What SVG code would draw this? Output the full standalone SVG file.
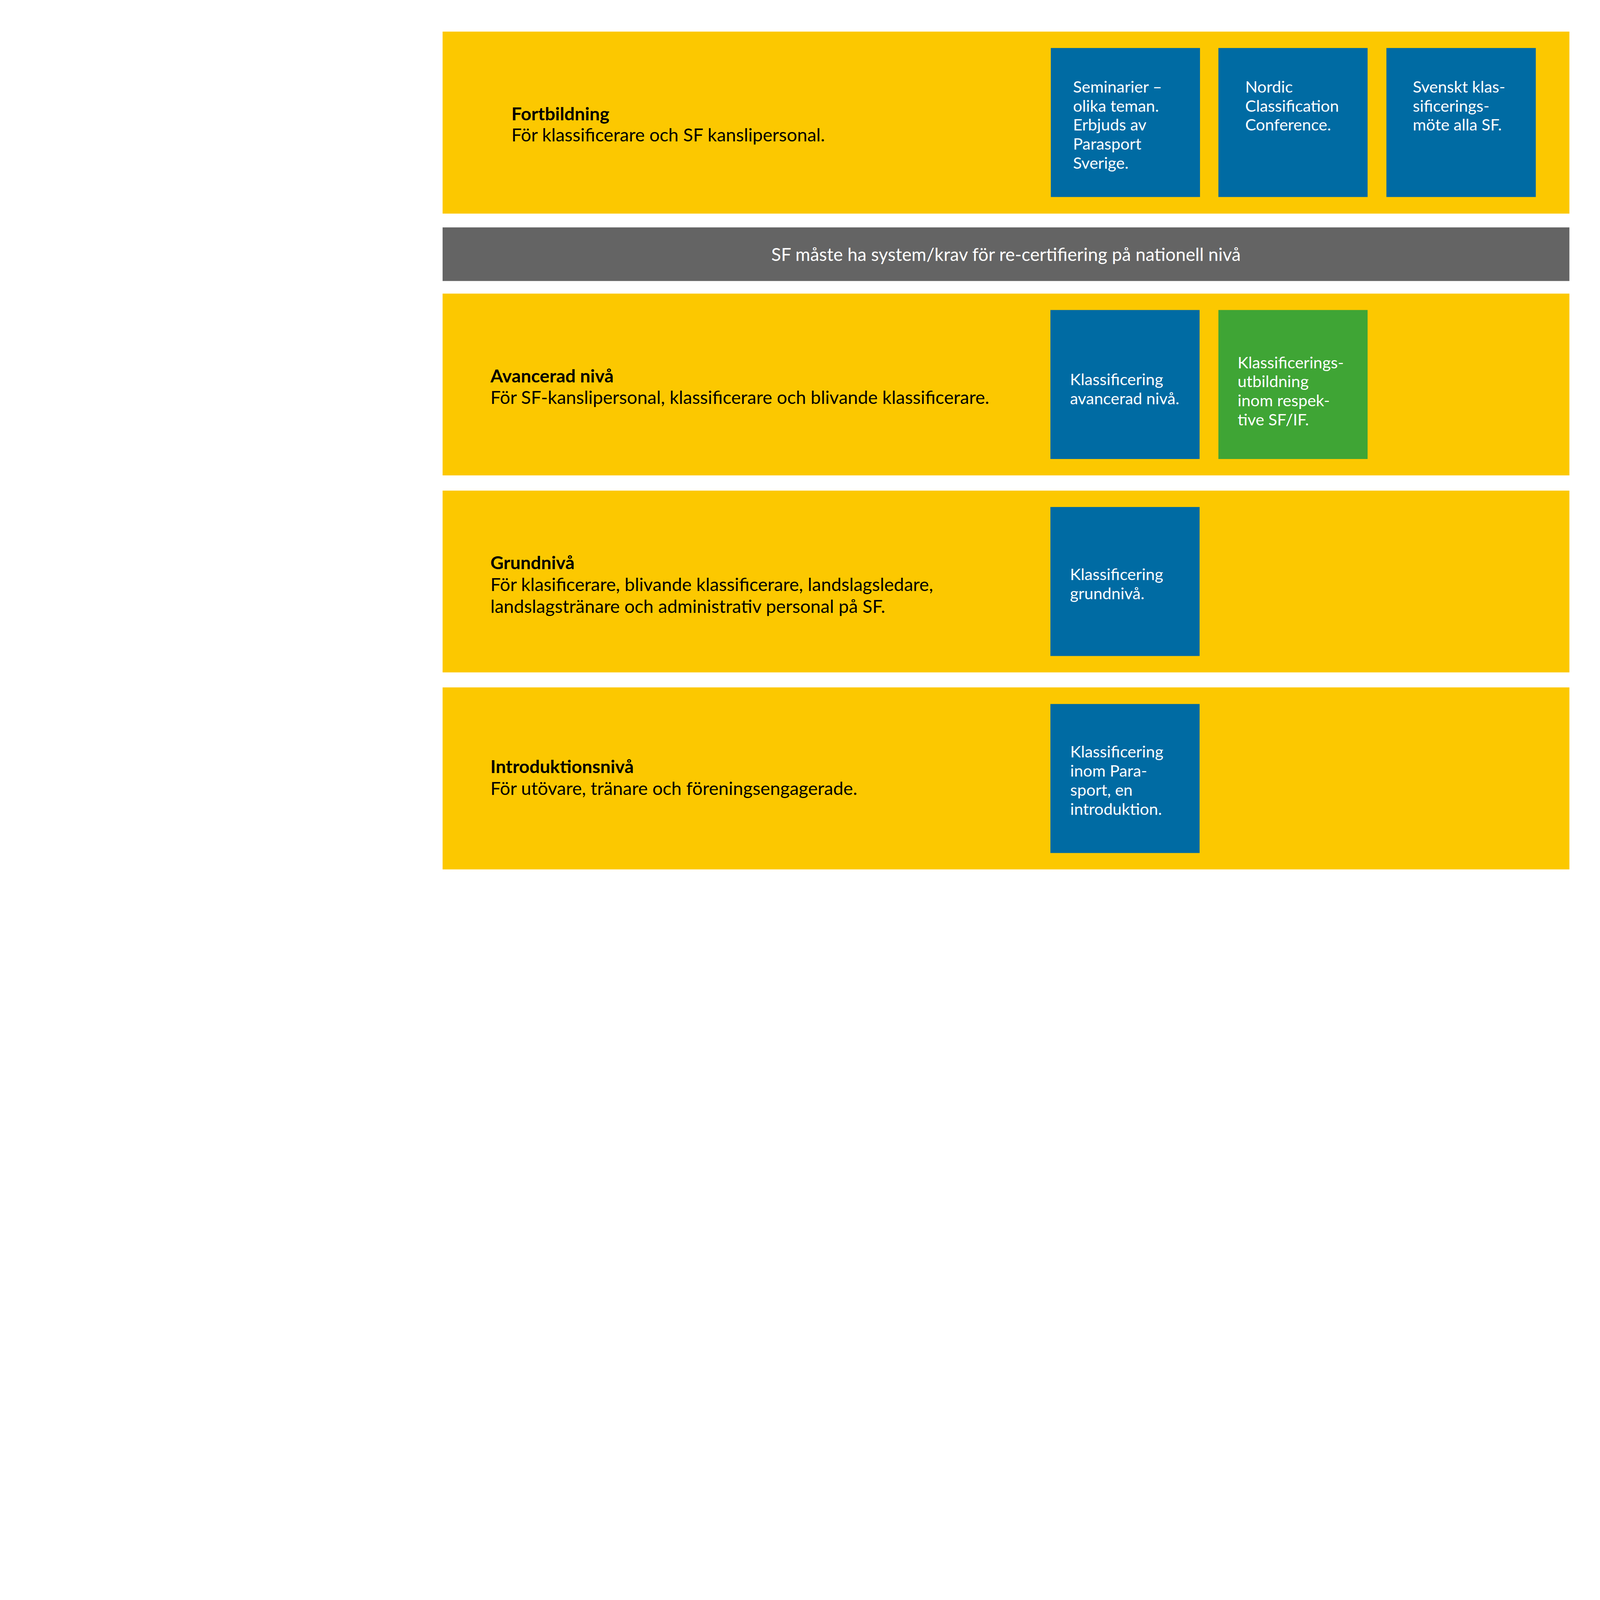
<svg xmlns="http://www.w3.org/2000/svg" width="8000" height="4500" viewBox="0 0 8000 4500">
<style>
svg:root{width:100vw;height:56.25vw}
.band{fill:#FCC800}
.bar{fill:#646464}
.blue{fill:#006BA3}
.green{fill:#3FA535}
.t{font-family:Lato,"Open Sans","Noto Sans",sans-serif;font-size:91px;fill:#000}
.h{font-weight:700}
.w{font-family:Lato,"Open Sans","Noto Sans",sans-serif;font-size:81px;fill:#fff}
.g{font-family:Lato,"Open Sans","Noto Sans",sans-serif;font-size:90px;fill:#fff}
</style>
<rect width="8000" height="4500" fill="#fff"/>
<g id="fortbildning">
<rect class="band" x="2213" y="158" width="5634" height="910"/>
<text class="t h" x="2557" y="602">Fortbildning</text>
<text class="t" x="2557" y="708">För klassificerare och SF kanslipersonal.</text>
</g>
<g id="seminarier">
<rect class="blue" x="5254" y="240" width="746" height="745"/>
<text class="w" x="5365" y="462">Seminarier –</text>
<text class="w" x="5365" y="558">olika teman.</text>
<text class="w" x="5365" y="653">Erbjuds av</text>
<text class="w" x="5365" y="748">Parasport</text>
<text class="w" x="5365" y="844">Sverige.</text>
</g>
<g id="nordic">
<rect class="blue" x="6092" y="240" width="746" height="745"/>
<text class="w" x="6226" y="463">Nordic</text>
<text class="w" x="6226" y="558">Classification</text>
<text class="w" x="6226" y="653">Conference.</text>
</g>
<g id="svenskt">
<rect class="blue" x="6932" y="240" width="747" height="745"/>
<text class="w" x="7064" y="462">Svenskt klas-</text>
<text class="w" x="7064" y="558">sificerings-</text>
<text class="w" x="7064" y="653">möte alla SF.</text>
</g>
<g id="recert">
<rect class="bar" x="2213" y="1137" width="5634" height="268"/>
<text class="g" x="5030" y="1304" text-anchor="middle">SF måste ha system/krav för re-certifiering på nationell nivå</text>
</g>
<g id="avancerad">
<rect class="band" x="2213" y="1468" width="5634" height="909"/>
<text class="t h" x="2452" y="1912">Avancerad nivå</text>
<text class="t" x="2452" y="2020">För SF-kanslipersonal, klassificerare och blivande klassificerare.</text>
</g>
<g id="klass-avancerad">
<rect class="blue" x="5252" y="1550" width="746" height="745"/>
<text class="w" x="5350" y="1926">Klassificering</text>
<text class="w" x="5350" y="2021">avancerad nivå.</text>
</g>
<g id="klass-utbildning">
<rect class="green" x="6092" y="1550" width="746" height="745"/>
<text class="w" x="6188" y="1841">Klassificerings-</text>
<text class="w" x="6188" y="1936">utbildning</text>
<text class="w" x="6188" y="2031">inom respek-</text>
<text class="w" x="6188" y="2127">tive SF/IF.</text>
</g>
<g id="grundniva">
<rect class="band" x="2213" y="2453" width="5634" height="909"/>
<text class="t h" x="2452" y="2846">Grundnivå</text>
<text class="t" x="2452" y="2955">För klasificerare, blivande klassificerare, landslagsledare,</text>
<text class="t" x="2452" y="3064">landslagstränare och administrativ personal på SF.</text>
</g>
<g id="klass-grund">
<rect class="blue" x="5252" y="2535" width="746" height="745"/>
<text class="w" x="5350" y="2900">Klassificering</text>
<text class="w" x="5350" y="2996">grundnivå.</text>
</g>
<g id="introduktion">
<rect class="band" x="2213" y="3437" width="5634" height="910"/>
<text class="t h" x="2452" y="3866">Introduktionsnivå</text>
<text class="t" x="2452" y="3975">För utövare, tränare och föreningsengagerade.</text>
</g>
<g id="klass-intro">
<rect class="blue" x="5252" y="3520" width="746" height="745"/>
<text class="w" x="5351" y="3787">Klassificering</text>
<text class="w" x="5351" y="3883">inom Para-</text>
<text class="w" x="5351" y="3979">sport, en</text>
<text class="w" x="5351" y="4075">introduktion.</text>
</g>
<g id="connectors"/>
</svg>
